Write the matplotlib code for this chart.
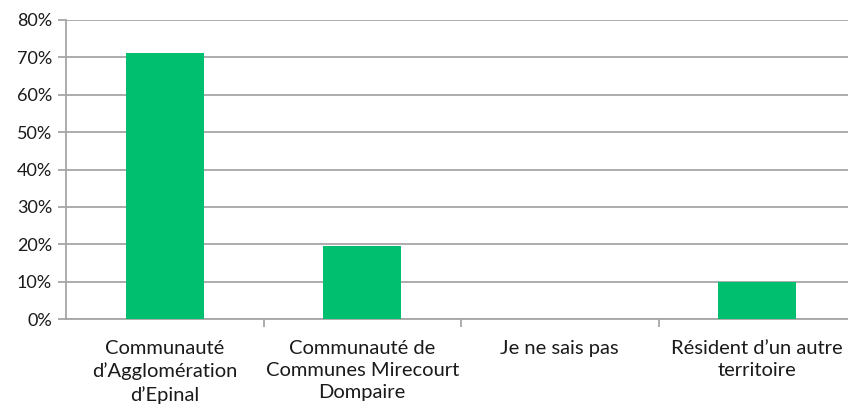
import matplotlib.pyplot as plt
from matplotlib.ticker import FuncFormatter

categories = ["Communauté\nd\u2019Agglomération\nd\u2019Epinal",
              "Communauté de\nCommunes Mirecourt\nDompaire",
              "Je ne sais pas",
              "Résident d\u2019un autre\nterritoire"]
values = [0.711, 0.195, 0.0, 0.098]
yticks = [0, 0.1, 0.2, 0.3, 0.4, 0.5, 0.6, 0.7, 0.8]

plt.rcParams['font.family'] = ['Lato', 'DejaVu Sans']

fig = plt.figure(figsize=(8.48, 4.05), dpi=100)
ax = fig.add_axes([66 / 848, 86 / 405, 790 / 848, 299 / 405])

ax.bar(range(len(values)), values, width=0.395, color="#00BF6F", zorder=3)

ax.set_xlim(-0.5, 3.5)
ax.set_ylim(0, 0.8)
ax.set_yticks(yticks)
ax.yaxis.set_major_formatter(FuncFormatter(lambda v, p: f"{v * 100:.0f}%"))
ax.grid(axis="y", color="#A6A6A6", linewidth=1.3, zorder=0)
ax.set_axisbelow(True)

ax.set_xticks([0.5, 1.5, 2.5, 3.5])
ax.set_xticklabels([])
ax.set_xticks(range(len(categories)), minor=True)
ax.set_xticklabels(categories, minor=True, fontsize=14.5, linespacing=1.37,
                   color="#1a1a1a")
ax.tick_params(axis="x", which="minor", length=0, pad=15)
ax.tick_params(axis="x", which="major", length=6, color="#A6A6A6", width=1.3)
ax.tick_params(axis="y", length=6, color="#A6A6A6", width=1.3, labelsize=13,
               labelcolor="#1a1a1a", pad=4)

for s in ["top", "right"]:
    ax.spines[s].set_visible(False)
for s in ["left", "bottom"]:
    ax.spines[s].set_color("#A6A6A6")
    ax.spines[s].set_linewidth(1.3)

fig.savefig("out.png", dpi=100)
